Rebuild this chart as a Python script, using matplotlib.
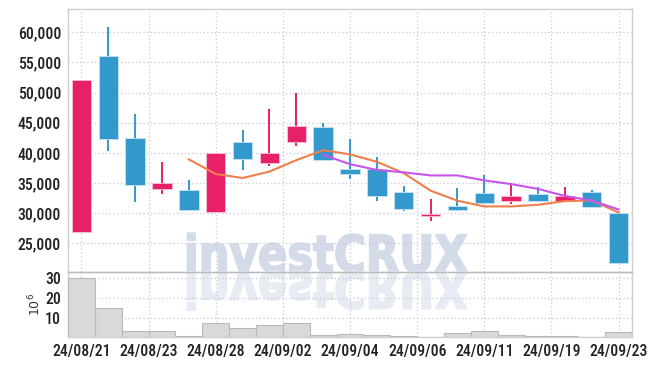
import numpy as np
import pandas as pd
import matplotlib
matplotlib.use("Agg")
import matplotlib.pyplot as plt
from matplotlib import font_manager as fm
from matplotlib.textpath import TextPath
from matplotlib.font_manager import FontProperties
from matplotlib.patches import PathPatch
from matplotlib.transforms import Affine2D
from matplotlib.ticker import FuncFormatter

# --- DATA ---
dates = ['24/08/21', '24/08/22', '24/08/23', '24/08/26', '24/08/27', '24/08/28',
         '24/08/29', '24/08/30', '24/09/02', '24/09/03', '24/09/04', '24/09/05',
         '24/09/06', '24/09/09', '24/09/10', '24/09/11', '24/09/12', '24/09/13',
         '24/09/19', '24/09/20', '24/09/23']
opens = [26900, 56100, 42500, 34050, 33850, 30250, 41800, 38350, 41800, 44300, 37300,
         37300, 33550, 29600, 31200, 33400, 32050, 33250, 32050, 33500, 30100]
closes = [52100, 42350, 34650, 35000, 30500, 40000, 39000, 40000, 44450, 38800, 36500,
          32850, 30650, 29850, 30500, 31750, 32850, 32050, 32850, 31100, 21700]
highs = [52100, 60800, 46500, 38550, 35450, 40000, 43850, 47200, 49900, 44900, 42250,
         39350, 34550, 32300, 34100, 36300, 35050, 34300, 34300, 33800, 30100]
lows = [26900, 40300, 31850, 33200, 30500, 30250, 37150, 37800, 41150, 38800, 35600,
        32000, 30350, 28650, 30300, 31450, 31500, 32050, 32050, 31100, 21700]
volumes = [29.9, 14.7, 3.0, 3.0, 0.8, 7.0, 4.5, 6.0, 7.0, 0.95, 1.5,
           1.0, 0.45, 0.35, 2.0, 3.0, 1.0, 0.5, 0.5, 0.2, 2.5]  # millions

# --- STYLE ---
UP = '#e8206a'
DOWN = '#3399cc'
UP_EDGE = '#f6c3d6'
DOWN_EDGE = '#c7e2f2'
GRID = '#c3c9dc'

# pick a condensed face if one is around
have = {f.name for f in fm.fontManager.ttflist}
cands = ['Roboto Condensed', 'Barlow Semi Condensed', 'Barlow Condensed',
         'Liberation Sans Narrow', 'Archivo Narrow', 'PT Sans Narrow']
TICKFONT = next((c for c in cands if c in have), 'DejaVu Sans')
plt.rcParams['font.family'] = [TICKFONT, 'DejaVu Sans']
TICKSIZE = 9.5 if TICKFONT == 'DejaVu Sans' else 11.3

wm_prop = FontProperties(family='DejaVu Sans', weight='bold')

df = pd.DataFrame({'open': opens, 'close': closes, 'high': highs, 'low': lows,
                   'vol': volumes})
ma5 = df['close'].rolling(5).mean()
ma10 = df['close'].rolling(10).mean()
x = np.arange(len(df))

fig = plt.figure(figsize=(6.57, 3.66), dpi=100)
fig.patch.set_facecolor('white')
L, R = 68 / 657, 632 / 657
top, mid, bot = 1 - 9.3 / 366, 1 - 271.7 / 366, 1 - 337.3 / 366
ax = fig.add_axes([L, mid, R - L, top - mid])
axv = fig.add_axes([L, bot, R - L, mid - bot], sharex=ax)

for a in (ax, axv):
    a.set_facecolor('none')
    a.grid(True, color=GRID, linestyle=(0, (1, 2)), linewidth=0.9)
    a.set_axisbelow(True)
    for s in a.spines.values():
        s.set_color('#cfcfcf')
        s.set_linewidth(1)
    a.tick_params(length=0, labelsize=TICKSIZE, colors='#222222', pad=5)

# --- CANDLES ---
for i, r in df.iterrows():
    up = r['close'] >= r['open']
    col = UP if up else DOWN
    ax.vlines(i, r['low'], r['high'], color=col, linewidth=1.4, zorder=3)
    lo, hi = min(r['open'], r['close']), max(r['open'], r['close'])
    ax.bar(i, max(hi - lo, 250), bottom=lo, width=0.72, color=col,
           edgecolor=UP_EDGE if up else DOWN_EDGE, linewidth=0.6, zorder=4)

ax.plot(x, ma5, color='#ee7f4c', linewidth=1.5, zorder=5)
ax.plot(x, ma10, color='#c855ec', linewidth=1.5, zorder=5)

ax.set_ylim(20300, 63800)
ax.set_yticks(range(25000, 60001, 5000))
ax.yaxis.set_major_formatter(FuncFormatter(lambda v, p: f'{int(v):,}'))
ax.set_xlim(-0.5, len(df) - 0.5)
ax.tick_params(axis='x', labelbottom=False)

# --- VOLUME ---
axv.bar(x, volumes, width=1.0, color='#d9d9db', edgecolor='#b9b9bb', linewidth=0.8,
        zorder=3)
axv.set_ylim(0, 33.2)
axv.set_yticks([10, 20, 30])
axv.set_ylabel('$10^6$', fontsize=9, color='#333333', family='DejaVu Sans')
axv.yaxis.set_label_coords(-0.043, 0.5)
tick_pos = np.arange(0, len(df), 2.5)
axv.set_xticks(tick_pos)
axv.set_xticklabels([dates[int(round(t))] for t in tick_pos])
axv.spines['top'].set_color('#bbbbbb')
for lbl in axv.get_xticklabels() + axv.get_yticklabels() + ax.get_yticklabels():
    lbl.set_fontweight('medium')

# --- WATERMARK (with reflection) ---
tp = TextPath((0, 0), 'investCRUX', size=100, prop=wm_prop)
ext = tp.get_extents()
cap = TextPath((0, 0), 'C', size=100, prop=wm_prop).get_extents().y1
x0, x1 = 187.5, 467.0
base_y = 366 - 271.7
sx = (x1 - x0) / ext.width
sy = 37.6 / cap
px = Affine2D().scale(1 / fig.dpi) + fig.dpi_scale_trans
tr = Affine2D().translate(-ext.x0, 0).scale(sx, sy).translate(x0, base_y)
fig.add_artist(PathPatch(tp, transform=tr + px, facecolor='#d3dae8',
                         edgecolor='#d3dae8', lw=1.3, zorder=-1))
trf = Affine2D().translate(-ext.x0, 0).scale(sx, -sy).translate(x0, base_y)
fig.add_artist(PathPatch(tp, transform=trf + px, facecolor='#e7ebf3',
                         edgecolor='#e7ebf3', lw=1.3, zorder=-1))

fig.savefig('out.png', dpi=100)
